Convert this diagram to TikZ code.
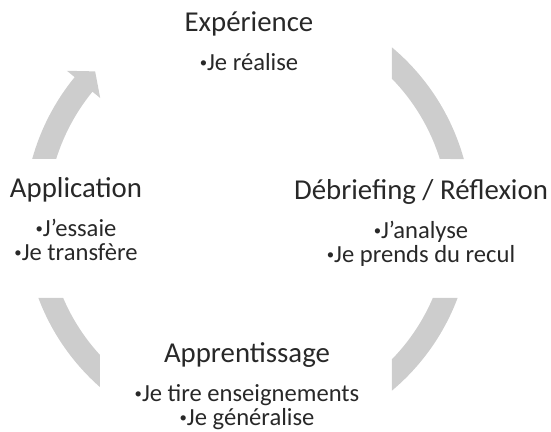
\documentclass[tikz,border=0pt]{standalone}
\usepackage{fontspec}
\setmainfont{Carlito}
\usepackage{xcolor}
\usetikzlibrary{positioning}

\definecolor{arcgray}{RGB}{205,205,205}
\definecolor{textgray}{RGB}{40,40,40}
\newcommand{\bul}{\raisebox{0.12em}{\scalebox{0.6}{•}}}

\begin{document}
\begin{tikzpicture}[x=0.02cm, y=0.02cm,
  title/.style={font=\fontsize{16.4}{19}\selectfont, text=textgray, inner sep=0pt, anchor=base},
  bullets/.style={font=\fontsize{14}{13.7}\selectfont, text=textgray, align=center, inner sep=0pt},
  arcband/.style={fill=arcgray, draw=none},
  node distance=9pt]
% Define constants
\def\rout{224}
\def\rin{201}
\def\rmid{212.5}

\useasboundingbox (-248,-213) rectangle (303,219);

% Draw the grey arcs of the cycle
\fill[arcband] (50:\rout) arc[start angle=50, end angle=15.5, radius=\rout]
  -- (17.4:\rin) arc[start angle=17.4, end angle=44.24, radius=\rin] -- cycle;
\fill[arcband] (-20.65:\rout) arc[start angle=-20.65, end angle=-50, radius=\rout]
  -- (-44.24:\rin) arc[start angle=-44.24, end angle=-23.14, radius=\rin] -- cycle;
\fill[arcband] (200.65:\rout) arc[start angle=200.65, end angle=228.64, radius=\rout]
  -- (222.57:\rin) arc[start angle=222.57, end angle=203.14, radius=\rin] -- cycle;

% Last arc carries the arrow head
\fill[arcband] (164.46:\rout) arc[start angle=164.46, end angle=140.7, radius=\rout]
  -- (140.7:234) -- (136:\rmid) -- (140.7:191)
  -- (140.7:\rin) arc[start angle=140.7, end angle=162.63, radius=\rin] -- cycle;

% Stage titles
\node[title] (expTitle) at (1,187) {Expérience};
\node[title] (debTitle) at (173,19) {Débriefing / Réflexion};
\node[title] (appTitle) at (-1,-144) {Apprentissage};
\node[title] (apcTitle) at (-172,21) {Application};

% Bullet points under each title
\node[bullets, below=of expTitle] (expList) {\bul Je réalise};
\node[bullets, below=of debTitle] (debList) {\bul J'analyse\\\bul Je prends du recul};
\node[bullets, below=of appTitle] (appList) {\bul Je tire enseignements\\\bul Je généralise};
\node[bullets, below=of apcTitle] (apcList) {\bul J'essaie\\\bul Je transfère};

\end{tikzpicture}
\end{document}
